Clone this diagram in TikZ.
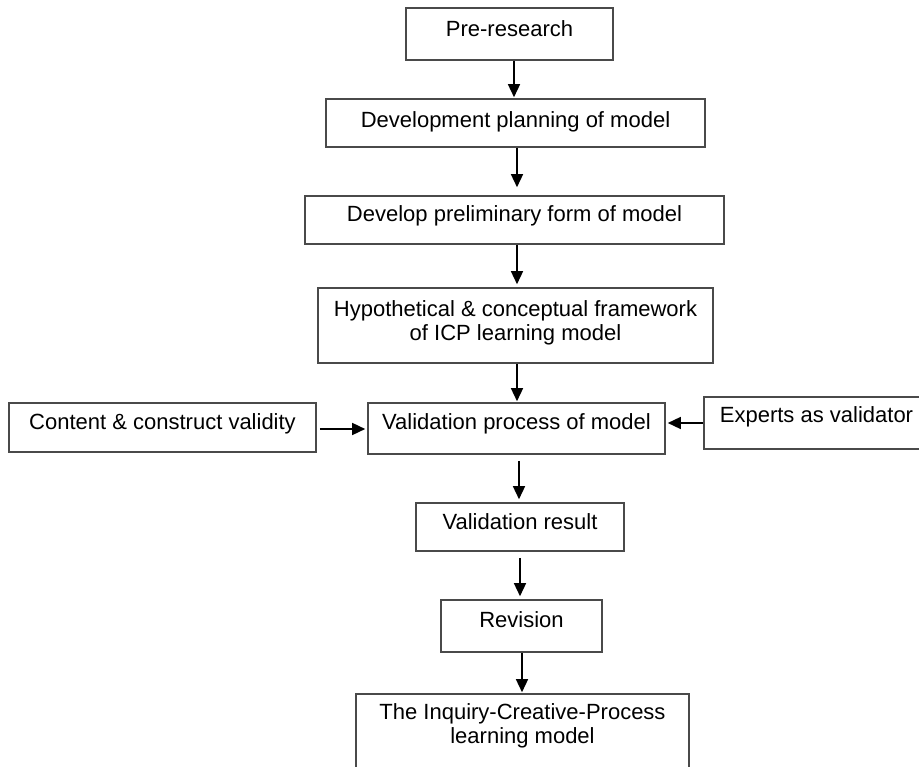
\documentclass[tikz,border=0pt]{standalone}
\usepackage{fontspec}
\setmainfont{Liberation Sans}
\usetikzlibrary{arrows.meta}
\definecolor{boxline}{HTML}{4A4A4A}
\tikzset{
  box/.style={draw=boxline, line width=1.6pt, fill=white, inner sep=0pt},
  txt/.style={font=\fontsize{22}{24}\selectfont, text=black, inner sep=0pt, align=center},
  arr/.style={line width=1.5pt, -{Triangle[length=13pt,width=12pt]}},
}
\begin{document}
\begin{tikzpicture}[x=1pt,y=-1pt]
\useasboundingbox (0,0) rectangle (919,767);
\clip (0,0) rectangle (919,767);
\fill[white] (0,0) rectangle (919,767);

% boxes
\node[box, minimum width=207pt, minimum height=52pt] (pre) at (509.5,34) {};
\node[box, minimum width=379pt, minimum height=48pt] (plan) at (515.5,123) {};
\node[box, minimum width=419pt, minimum height=48pt] (prelim) at (514.5,220) {};
\node[box, minimum width=395pt, minimum height=75pt] (hyp) at (515.5,325.5) {};
\node[box, minimum width=297pt, minimum height=51pt] (valid) at (516.5,428.5) {};
\node[box, minimum width=307pt, minimum height=49pt] (content) at (162.5,427.5) {};
\node[box, minimum width=228pt, minimum height=52pt] (experts) at (818,423) {};
\node[box, minimum width=208pt, minimum height=48pt] (result) at (520,527) {};
\node[box, minimum width=161pt, minimum height=52pt] (rev) at (521.5,626) {};
\node[box, minimum width=333pt, minimum height=100pt] (final) at (522.5,744) {};

% texts
\node[txt, anchor=base] (tpre) at (509.5,37) {Pre-research};
\node[txt, anchor=base] (tplan) at (515.5,128) {Development planning of model};
\node[txt, anchor=base] (tprelim) at (514.5,222) {Develop preliminary form of model};
\node[txt] (thyp) at (515.5,323) {Hypothetical \& conceptual framework\\of ICP learning model};
\node[txt, anchor=base] (tvalid) at (516.5,430) {Validation process of model};
\node[txt, anchor=base] (tcontent) at (162.5,430) {Content \& construct validity};
\node[txt, anchor=base] (texperts) at (816.5,423) {Experts as validator};
\node[txt, anchor=base] (tresult) at (520,529) {Validation result};
\node[txt, anchor=base] (trev) at (521.5,627) {Revision};
\node[txt, anchor=north] (tfinal) at (522.5,703) {The Inquiry-Creative-Process\\learning model};

% connectors (yshift is in page direction: positive = up)
\draw[arr] ([xshift=4.5pt]pre.south) -- ([xshift=-1.5pt,yshift=1pt]plan.north);
\draw[arr] ([xshift=1.5pt]plan.south) -- ([xshift=2.5pt,yshift=8pt]prelim.north);
\draw[arr] ([xshift=2.5pt]prelim.south) -- ([xshift=1.5pt,yshift=3pt]hyp.north);
\draw[arr] ([xshift=1.5pt]hyp.south) -- ([xshift=0.5pt,yshift=1pt]valid.north);
\draw[arr] ([xshift=2.5pt,yshift=-6pt]valid.south) -- ([xshift=-1pt,yshift=3pt]result.north);
\draw[arr] ([yshift=-6pt]result.south) -- ([xshift=-1.5pt,yshift=3pt]rev.north);
\draw[arr] ([xshift=0.5pt]rev.south) -- ([xshift=-0.5pt,yshift=1pt]final.north);
\draw[arr] ([xshift=3pt,yshift=-1.5pt]content.east) -- ([xshift=-2pt,yshift=-0.5pt]valid.west);
\draw[arr] (experts.west) -- ([xshift=2pt,yshift=5.5pt]valid.east);
\end{tikzpicture}
\end{document}
